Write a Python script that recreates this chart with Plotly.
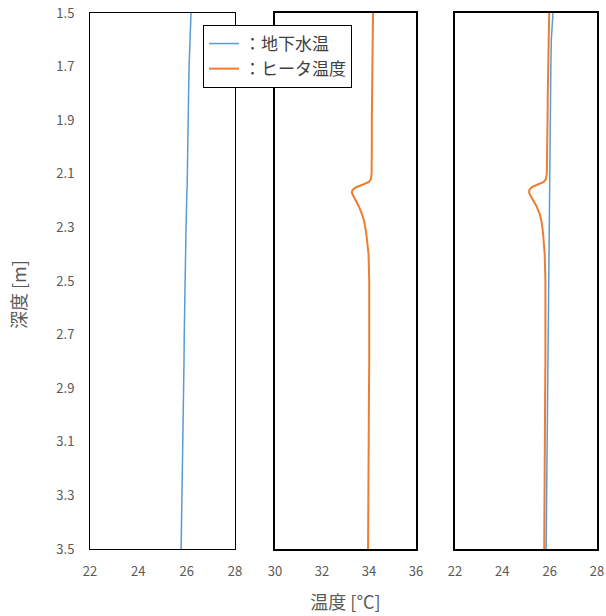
import plotly.graph_objects as go

# ---------------- data ----------------
depth = [1.50, 1.60, 1.70, 1.80, 1.90, 2.00, 2.05, 2.10, 2.12, 2.13, 2.14, 2.15,
         2.16, 2.17, 2.18, 2.20, 2.22, 2.25, 2.28, 2.32, 2.36, 2.40, 2.50, 2.60,
         2.70, 2.80, 2.90, 3.00, 3.10, 3.20, 3.30, 3.40, 3.50]

# panel 1: groundwater temperature
gw_1 = [26.18, 26.13, 26.10, 26.08, 26.07, 26.05, 26.04, 26.03, 26.03, 26.02, 26.03, 26.02,
        26.01, 26.01, 26.00, 26.00, 25.99, 25.99, 25.98, 25.97, 25.96, 25.95, 25.93, 25.92,
        25.90, 25.89, 25.87, 25.86, 25.84, 25.83, 25.81, 25.79, 25.77]

# panel 2: heater temperature
heat_2 = [34.17, 34.15, 34.14, 34.13, 34.12, 34.12, 34.12, 34.11, 34.08, 34.00, 33.75, 33.45,
          33.30, 33.27, 33.32, 33.45, 33.56, 33.70, 33.80, 33.88, 33.94, 33.98, 34.01, 34.02,
          34.02, 34.01, 34.00, 33.99, 33.99, 33.98, 33.97, 33.97, 33.96]

# panel 3: both
gw_3 = [26.14, 26.07, 26.05, 26.04, 26.03, 26.02, 26.01, 26.01, 26.00, 26.00, 26.01, 25.99,
        26.00, 25.98, 26.00, 25.99, 25.97, 25.99, 25.97, 25.97, 25.96, 25.96, 25.95, 25.94,
        25.93, 25.92, 25.91, 25.90, 25.89, 25.88, 25.87, 25.86, 25.85]
heat_3 = [25.98, 25.95, 25.93, 25.92, 25.91, 25.90, 25.89, 25.88, 25.84, 25.75, 25.50, 25.25,
          25.14, 25.13, 25.18, 25.32, 25.44, 25.58, 25.66, 25.72, 25.76, 25.79, 25.82, 25.83,
          25.83, 25.82, 25.81, 25.80, 25.80, 25.79, 25.78, 25.77, 25.77]

y_ticks = [1.5, 1.7, 1.9, 2.1, 2.3, 2.5, 2.7, 2.9, 3.1, 3.3, 3.5]
x_ticks_a = [22, 24, 26, 28]
x_ticks_b = [30, 32, 34, 36]

BLUE = "#5B9BD5"
ORANGE = "#ED7D31"
GRAY = "#595959"
FONT = "Noto Sans CJK JP"

W, H = 606, 616


def px(v):
    return v / W


def py(v):
    return (H - v) / H


fig = go.Figure()

fig.add_trace(go.Scatter(x=gw_1, y=depth, mode="lines", name="：地下水温",
                         line=dict(color=BLUE, width=1.5), xaxis="x", yaxis="y"))
fig.add_trace(go.Scatter(x=heat_2, y=depth, mode="lines", name="：ヒータ温度",
                         line=dict(color=ORANGE, width=2), xaxis="x2", yaxis="y2"))
fig.add_trace(go.Scatter(x=heat_3, y=depth, mode="lines", showlegend=False,
                         line=dict(color=ORANGE, width=2), xaxis="x3", yaxis="y3"))
fig.add_trace(go.Scatter(x=gw_3, y=depth, mode="lines", showlegend=False,
                         line=dict(color=BLUE, width=1.5), xaxis="x3", yaxis="y3"))

ydom = [py(549), py(13)]
doms = [[px(90), px(235)], [px(275), px(416)], [px(455), px(597)]]

common_x = dict(showgrid=False, zeroline=False, showline=True, mirror=True,
                linecolor="black", linewidth=1.5, ticks="", automargin=False,
                tickfont=dict(family=FONT, size=13, color=GRAY),
                ticklabelstandoff=10, ticklabeloverflow="allow")
common_y = dict(showgrid=False, zeroline=False, showline=True, mirror=True,
                linecolor="black", linewidth=1.5, ticks="", automargin=False,
                range=[3.5, 1.5], tickvals=y_ticks, ticktext=[f"{v:.1f}" for v in y_ticks],
                tickfont=dict(family=FONT, size=13, color=GRAY), domain=ydom,
                ticklabeloverflow="allow")

fig.update_layout(
    width=W, height=H,
    margin=dict(l=0, r=0, t=0, b=0, autoexpand=False),
    paper_bgcolor="white", plot_bgcolor="white",
    font=dict(family=FONT, color=GRAY),
    xaxis=dict(common_x, domain=doms[0], range=[22, 28], tickvals=x_ticks_a, anchor="y",
               linewidth=1),
    xaxis2=dict(common_x, domain=doms[1], range=[30, 36], tickvals=x_ticks_b, anchor="y2",
                title=dict(text="温度 [°C]", font=dict(family=FONT, size=18, color=GRAY),
                           standoff=17)),
    xaxis3=dict(common_x, domain=doms[2], range=[22, 28], tickvals=x_ticks_a, anchor="y3"),
    yaxis=dict(common_y, anchor="x", ticklabelstandoff=12, linewidth=1),
    yaxis2=dict(common_y, anchor="x2", showticklabels=False),
    yaxis3=dict(common_y, anchor="x3", showticklabels=False),
    annotations=[dict(text="深度 [m]", textangle=-90, xref="paper", yref="paper",
                      x=px(18), y=py(295), xanchor="center", yanchor="middle",
                      showarrow=False, font=dict(family=FONT, size=18, color=GRAY))],
    legend=dict(x=px(203), y=py(25), xanchor="left", yanchor="top",
                bgcolor="white", bordercolor="black", borderwidth=1,
                font=dict(family=FONT, size=17, color="#404040"),
                itemwidth=30, tracegroupgap=0),
    showlegend=True,
)

fig.write_html("out.html", config={"displayModeBar": False},
               post_script="document.body.style.margin='0';document.body.style.overflow='hidden';")
